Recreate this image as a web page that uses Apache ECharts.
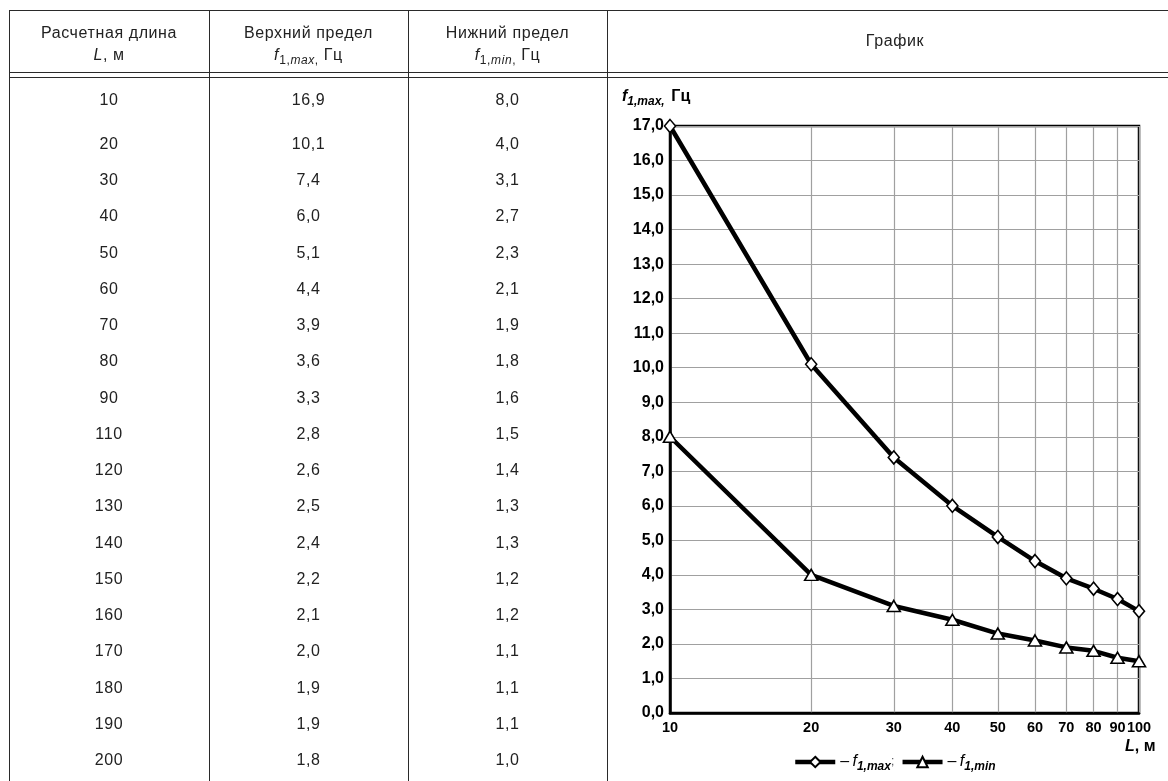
<!DOCTYPE html>
<html><head><meta charset="utf-8">
<script src="https://cdn.jsdelivr.net/npm/echarts@6/dist/echarts.min.js"></script>
<style>
html,body{margin:0;padding:0;background:#fff;}
#wrap{position:relative;width:1168px;height:781px;overflow:hidden;font-family:"Liberation Sans",Arial,sans-serif;color:#222;}
#chart{position:absolute;left:0;top:0;width:1168px;height:781px;}
.ln{position:absolute;background:#2a2a2a;}
.tx{position:absolute;transform:translate(-50%,-50%);white-space:nowrap;font-size:16px;line-height:18px;}
.hd{letter-spacing:0.6px;}
.tx sub{font-size:12px;vertical-align:-4px;line-height:0;}
</style></head><body>
<div id="wrap"><div id="chart"></div><div id="tbl"></div></div>
<script>
// ---- data ----
const lengths      = [10, 20, 30, 40, 50, 60, 70, 80, 90, 110, 120, 130, 140, 150, 160, 170, 180, 190, 200];
const upperLimits  = ['16,9','10,1','7,4','6,0','5,1','4,4','3,9','3,6','3,3','2,8','2,6','2,5','2,4','2,2','2,1','2,0','1,9','1,9','1,8'];
const lowerLimits  = ['8,0','4,0','3,1','2,7','2,3','2,1','1,9','1,8','1,6','1,5','1,4','1,3','1,3','1,2','1,2','1,1','1,1','1,1','1,0'];
const headerLine1  = ['Расчетная длина', 'Верхний предел', 'Нижний предел'];
const headerLine2  = ['<i>L</i>, м', '<i>f</i><sub>1,<i>max</i>,</sub> Гц', '<i>f</i><sub>1,<i>min</i>,</sub> Гц'];
const chartHeader  = 'График';
const chartLengths = [10, 20, 30, 40, 50, 60, 70, 80, 90, 100];
const chartMax     = [17.0, 10.1, 7.4, 6.0, 5.1, 4.4, 3.9, 3.6, 3.3, 2.95];
const chartMin     = [8.0, 4.0, 3.1, 2.7, 2.3, 2.1, 1.9, 1.8, 1.6, 1.5];
const xTicks       = [10, 20, 30, 40, 50, 60, 70, 80, 90, 100];

// ---- table (HTML) ----
const tbl = document.getElementById('tbl');
const colX = [9, 209, 408, 607];
const rightX = 1183;
function line(x, y, w, h){ const d=document.createElement('div'); d.className='ln'; d.style.left=x+'px'; d.style.top=y+'px'; d.style.width=w+'px'; d.style.height=h+'px'; tbl.appendChild(d); }
function text(cx, cy, html, cls){ const d=document.createElement('div'); d.className='tx'+(cls?' '+cls:''); d.style.left=cx+'px'; d.style.top=cy+'px'; d.innerHTML=html; tbl.appendChild(d); }
line(colX[0], 10, rightX-colX[0], 1);
line(colX[0], 72, rightX-colX[0], 1);
line(colX[0], 77, rightX-colX[0], 1);
colX.forEach(x => line(x, 10, 1, 800));
const colC = [ (colX[0]+colX[1])/2, (colX[1]+colX[2])/2, (colX[2]+colX[3])/2 ];
headerLine1.forEach((t,i)=>text(colC[i], 33, t, 'hd'));
headerLine2.forEach((t,i)=>text(colC[i], 55, t, 'hd'));
text((colX[3]+rightX)/2, 41, chartHeader, 'hd');
lengths.forEach((L,i)=>{
  const y = i===0 ? 100 : 144 + (i-1)*36.24;
  text(colC[0], y, String(L), 'hd');
  text(colC[1], y, upperLimits[i], 'hd');
  text(colC[2], y, lowerLimits[i], 'hd');
});

// ---- chart ----
const FF = '"Liberation Sans", Arial, sans-serif';
const chart = echarts.init(document.getElementById('chart'), null, {renderer:'canvas'});
const subRich = {
  f: {fontFamily:FF, fontSize:16, fontStyle:'italic', fontWeight:'bold', color:'#000'},
  s: {fontFamily:FF, fontSize:12, fontStyle:'italic', fontWeight:'bold', color:'#000', padding:[10,0,0,0]},
  n: {fontFamily:FF, fontSize:16, fontWeight:'bold', color:'#000'},
  fi:{fontFamily:FF, fontSize:16, fontStyle:'italic', color:'#000'},
  d: {fontFamily:FF, fontSize:16, color:'#000'}
};
chart.setOption({
  animation:false,
  grid:{left:670, right:29, top:126, bottom:68, show:true, borderColor:'#000', borderWidth:2.5, outerBoundsMode:'none'},
  xAxis:{
    type:'log', logBase:10, min:10, max:100,
    axisLine:{show:true, lineStyle:{color:'#000', width:2.5}},
    axisTick:{show:false, customValues:xTicks},
    axisLabel:{customValues:xTicks, showMinLabel:true, showMaxLabel:true, hideOverlap:false,
      color:'#000', fontWeight:'bold', fontSize:14.5, fontFamily:FF, margin:7},
    splitLine:{show:true, lineStyle:{color:'#a0a0a0', width:1.2}}
  },
  yAxis:{
    type:'value', min:0, max:17, interval:1,
    axisLine:{show:true, lineStyle:{color:'#000', width:2.5}},
    axisTick:{show:false},
    axisLabel:{color:'#000', fontWeight:'bold', fontSize:16, fontFamily:FF, margin:6, showMinLabel:true, showMaxLabel:true,
      formatter:v=>v.toFixed(1).replace('.',',')},
    splitLine:{show:true, lineStyle:{color:'#a0a0a0', width:1.2}}
  },
  legend:{
    left:788, top:749, itemWidth:40, itemHeight:13, itemGap:6,
    data:['fmax','fmin'],
    lineStyle:{width:4.5, color:'#000'},
    formatter:n=> n==='fmax' ? '{d|–} {fi|f}{s|1,max};' : '{d|–} {fi|f}{s|1,min}',
    textStyle:{rich:subRich}
  },
  graphic:[
    {type:'text', left:622, top:89, style:{text:'{f|f}{s|1,max,}  {n|Гц}', rich:subRich}},
    {type:'text', left:1125, top:739, style:{text:'{fi|L}{d|, м}', rich:{fi:{fontFamily:FF,fontSize:16,fontStyle:'italic',fontWeight:'bold',color:'#000'}, d:{fontFamily:FF,fontSize:16,fontWeight:'bold',color:'#000'}}}}
  ],
  series:[
    {name:'fmax', type:'line', clip:false, data:chartLengths.map((l,i)=>[l, chartMax[i]]),
     symbol:'diamond', symbolSize:[11,13], itemStyle:{color:'#fff', borderColor:'#000', borderWidth:1.6},
     lineStyle:{color:'#000', width:4.5}, emphasis:{disabled:true}, z:3},
    {name:'fmin', type:'line', clip:false, data:chartLengths.map((l,i)=>[l, chartMin[i]]),
     symbol:'triangle', symbolSize:[13,11], itemStyle:{color:'#fff', borderColor:'#000', borderWidth:1.6},
     lineStyle:{color:'#000', width:4.5}, emphasis:{disabled:true}, z:3}
  ]
});
</script>
</body></html>
